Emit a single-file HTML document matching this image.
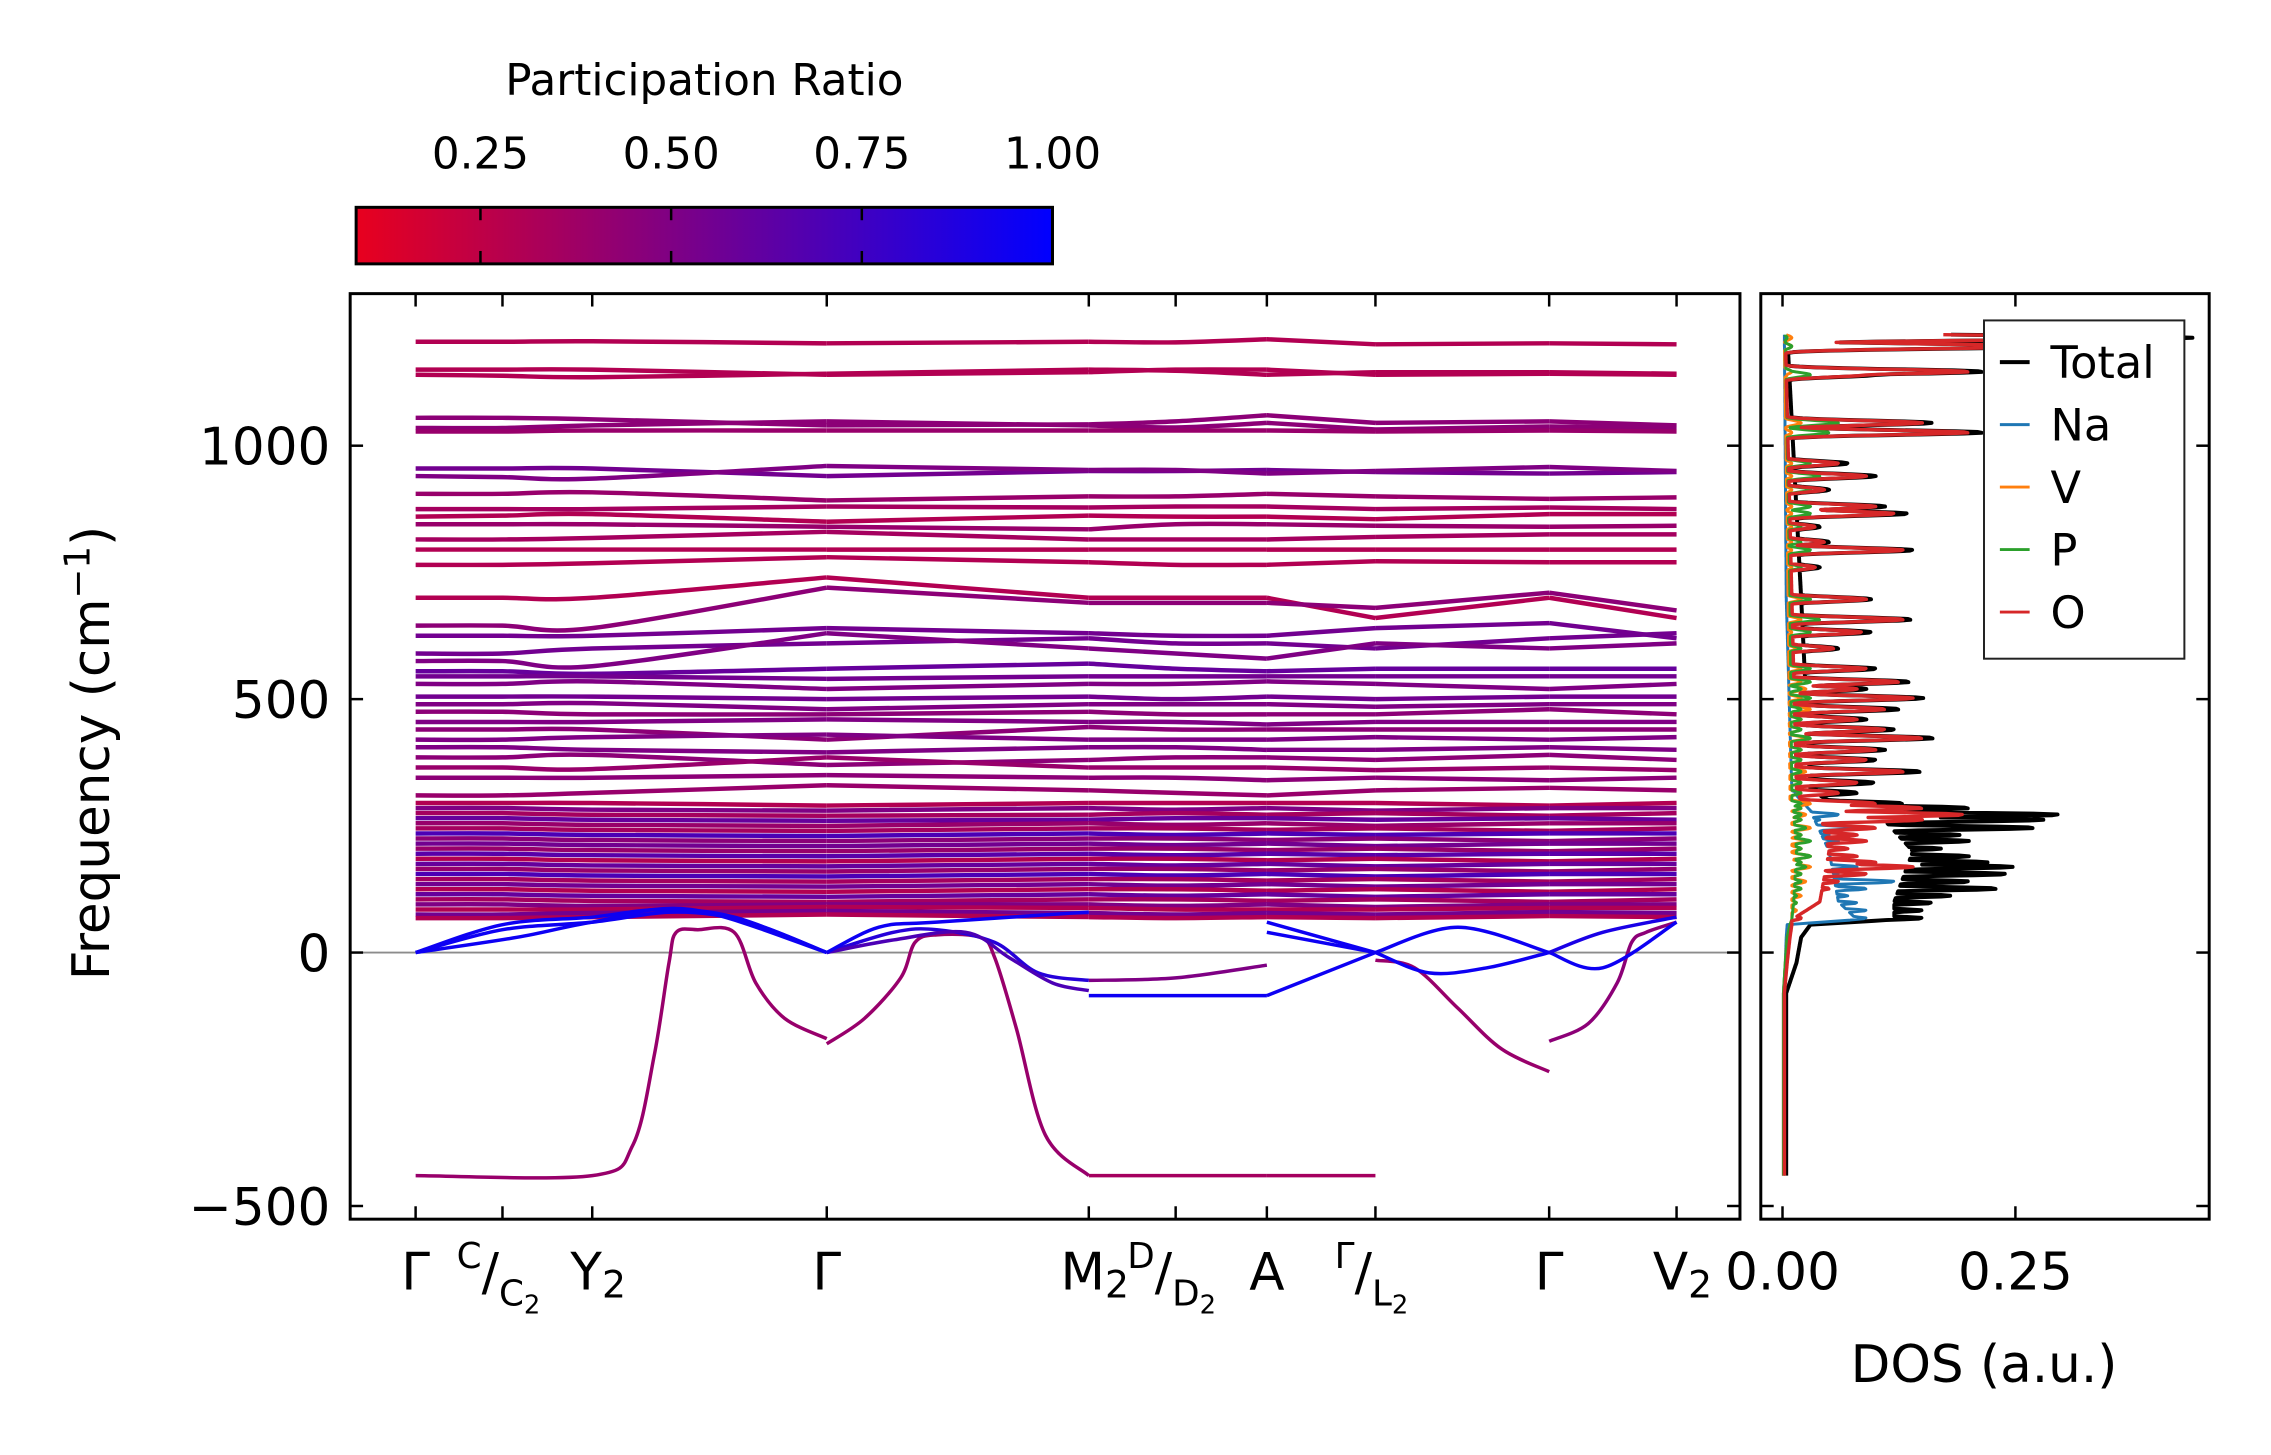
<!DOCTYPE html>
<html><head><meta charset="utf-8">
<style>
html,body{margin:0;padding:0;background:#fff;}
svg{display:block;font-family:"DejaVu Sans","Liberation Sans",sans-serif;}
</style></head>
<body>
<svg id="fig" width="2271" height="1455" viewBox="0 0 2271 1455" xmlns="http://www.w3.org/2000/svg">
<defs>
<linearGradient id="cmap" x1="0" x2="1" y1="0" y2="0">
<stop offset="0" stop-color="#e8001e"/><stop offset="1" stop-color="#0000ff"/>
</linearGradient>
<clipPath id="clipL"><rect x="353" y="296" width="1401" height="933"/></clipPath>
<clipPath id="clipR"><rect x="1775" y="296" width="452" height="933"/></clipPath>
</defs>
<g transform="scale(0.992)">
<g id="bands"></g>
<g id="dos"></g>
<g id="cbar"></g>
</g>
</svg>
<script>
// ---- data ----
const kTickLabels = ["Γ","C/C2","Y2","Γ","M2","D/D2","A","Γ/L2","Γ","V2"];
const kTicks = [0, 0.6, 1.22, 2.84, 4.65, 5.25, 5.88, 6.63, 7.83, 8.71];
const segments = [[0,1,2,3],[3,4],[4,5,6],[6,7],[7,8],[8,9]];
const yTicks = [-500, 0, 500, 1000];
const bandFreqs = [
[1205,1205,1206,1202,1205,1204,1210,1200,1202,1200],
[1150,1150,1150,1140,1145,1150,1150,1140,1142,1140],
[1140,1138,1135,1142,1150,1148,1140,1145,1145,1142],
[1055,1055,1052,1040,1042,1048,1060,1045,1048,1040],
[1035,1035,1040,1048,1040,1036,1045,1032,1038,1035],
[1028,1028,1030,1030,1030,1030,1030,1028,1030,1028],
[955,955,955,940,950,950,952,948,945,948],
[940,938,935,960,952,952,945,950,958,950],
[905,905,908,892,900,900,905,900,895,898],
[875,875,875,880,878,880,880,875,878,875],
[860,862,865,850,862,860,860,855,865,865],
[845,845,845,840,835,845,845,842,840,842],
[815,815,818,830,815,815,815,820,825,825],
[795,795,795,795,795,795,795,795,795,795],
[765,765,768,780,770,765,765,772,770,770],
[700,700,700,740,700,700,700,660,700,660],
[645,645,640,720,690,690,690,680,710,675],
[625,625,625,640,630,625,625,640,650,620],
[590,590,600,610,620,610,610,600,620,630],
[575,575,565,630,600,590,580,610,600,610],
[555,555,550,560,570,560,555,560,560,560],
[545,545,545,540,545,545,545,545,545,545],
[530,530,535,520,530,530,535,530,520,530],
[505,505,505,500,505,500,505,500,505,505],
[490,490,492,480,490,490,490,485,490,490],
[475,475,470,470,475,470,470,470,480,470],
[455,455,455,460,455,455,450,455,455,455],
[440,440,440,420,445,440,440,440,440,440],
[420,420,425,430,420,420,420,425,420,425],
[405,405,400,395,405,405,400,400,405,400],
[385,385,390,370,380,385,385,380,390,380],
[365,365,362,385,365,365,365,360,365,360],
[345,345,345,350,345,345,340,345,340,345],
[310,310,315,330,320,315,310,320,325,320],
[295,295,295,290,295,295,295,295,290,295],
[285,285,282,280,285,282,285,280,285,285],
[275,275,272,270,272,275,272,275,270,275],
[265,265,262,260,262,265,265,262,265,262],
[255,255,252,250,255,252,255,250,255,255],
[245,245,242,240,245,245,242,245,240,245],
[235,235,232,230,235,232,235,232,235,235],
[225,225,222,220,225,225,222,225,220,225],
[215,215,212,210,215,212,215,210,215,215],
[205,205,202,200,205,205,202,205,200,205],
[195,195,192,190,195,192,195,192,195,195],
[185,185,182,180,185,185,182,185,180,185],
[175,175,172,170,175,172,175,170,175,175],
[165,165,162,160,165,165,162,165,160,165],
[155,155,152,150,155,152,155,150,155,155],
[145,145,142,140,145,145,142,145,140,145],
[135,135,132,130,135,132,135,130,135,135],
[125,125,122,120,125,125,122,125,120,125],
[115,115,112,110,115,112,115,110,115,115],
[105,105,102,100,105,105,102,105,100,105],
[95,95,92,95,95,92,95,90,95,95],
[85,85,85,90,88,85,85,85,88,88],
[75,75,78,82,78,75,78,75,80,78],
[68,68,70,75,70,68,70,68,72,70]
];
const bandPR = [0.3,0.3,0.3,0.45,0.45,0.4,0.55,0.5,0.4,0.35,0.3,0.4,0.35,0.3,0.3,0.3,0.45,0.55,0.55,0.5,0.6,0.55,0.5,0.55,0.5,0.45,0.5,0.45,0.5,0.5,0.45,0.4,0.45,0.4,
0.3,0.5,0.35,0.6,0.4,0.35,0.7,0.45,0.55,0.4,0.65,0.3,0.6,0.4,0.7,0.35,0.55,0.3,0.6,0.35,0.5,0.3,0.55,0.3];
const specialK = [
[0,1.22,1.5,1.65,1.75,1.8,1.95,2.2,2.35,2.55,2.84],
[2.84,3.1,3.35,3.45,3.6,3.9,4.0,4.15,4.35,4.65],
[4.65,5.25,5.88],[5.88,6.63],
[6.63,6.9,7.2,7.5,7.83],
[7.83,8.1,8.3,8.4,8.5,8.71],
[0,0.6,1.22,1.8,2.3,2.84],[0,0.6,1.22,1.7,2.2,2.84],[0,0.7,1.22,1.9,2.84],
[2.84,3.3,3.6,4.0,4.3,4.65],[2.84,3.3,3.8,4.1,4.4,4.65],[2.84,3.2,3.6,4.65],
[4.65,5.25,5.88],[4.65,5.25,5.88],
[5.88,6.63],[5.88,6.63],[5.88,6.63],
[6.63,7.0,7.4,7.83],[6.63,7.2,7.83],
[7.83,8.2,8.71],[7.83,8.2,8.71]
];
const specialF = [
[-440,-440,-380,-200,-20,40,45,40,-60,-130,-170],
[-180,-130,-50,20,35,30,-10,-150,-360,-440],
[-440,-440,-440],[-440,-440],
[-15,-30,-110,-190,-235],
[-175,-140,-60,20,40,60],
[0,45,60,80,60,0],[0,55,70,85,70,0],[0,30,60,85,0],
[0,40,45,20,-40,-55],[0,25,40,-10,-60,-75],[0,50,60,80],
[-55,-50,-25],[-85,-85,-85],
[-85,0],[40,0],[60,0],
[0,-40,-30,0],[0,50,0],
[0,-30,60],[0,40,70]
];
const specialPR = [0.4,0.4,0.35,0.35,0.4,0.45,0.95,0.95,0.95,0.85,0.7,0.95,0.5,0.95,0.95,0.95,0.95,0.95,0.95,0.95,0.9];

const dosPeakFreq = [1213,1196,1146,1140,1045,1026,965,940,913,880,866,840,810,794,760,697,657,632,600,560,534,520,502,480,460,440,423,400,380,357,335,315,294,285,272,262,246,232,220,205,190,178,169,155,140,126,112,98,83,68];
const totalPeak = [.44,.3,.215,.1,.16,.215,.07,.1,.05,.11,.134,.04,.05,.14,.04,.095,.138,.095,.06,.10,.136,.09,.151,.125,.09,.12,.162,.11,.1,.148,.098,.08,.129,.2,.297,.28,.27,.19,.2,.17,.2,.22,.247,.24,.2,.23,.18,.16,.15,.15];
const oPeak = [.42,.28,.2,.09,.15,.2,.06,.09,.045,.1,.12,.035,.045,.13,.035,.09,.13,.085,.055,.09,.125,.08,.14,.11,.08,.11,.15,.1,.09,.13,.08,.06,.1,.15,.194,.15,.1,.08,.09,.07,.08,.1,.14,.09,.06,.05,.04,.03,.02,.02];
const naPeak = [0,0,0,0,0,0,0,0,0,0,0,0,0,0,0,0,0,0,0,0,0,0,0,0,0,0,0,0,.005,.005,.01,.015,.02,.02,.06,.04,.08,.05,.06,.07,.05,.05,.08,.06,.12,.09,.07,.08,.09,.09];
const vPeak = [.01,.01,.01,.005,.02,.01,.01,.01,.01,.01,.01,.01,.01,.01,.01,.02,.02,.01,.015,.02,.02,.025,.02,.03,.02,.02,.025,.02,.02,.025,.02,.02,.03,.02,.025,.02,.03,.02,.025,.02,.03,.02,.03,.02,.025,.02,.02,.015,.015,.01];
const pPeak = [.005,.01,.01,.03,.06,.05,.03,.04,.03,.03,.03,.02,.02,.03,.02,.03,.04,.03,.02,.03,.03,.02,.03,.02,.02,.02,.03,.02,.02,.02,.02,.02,.02,.02,.02,.02,.025,.02,.03,.02,.03,.02,.025,.02,.02,.02,.015,.015,.01,.01];
const envFreq  = [-445,-80,-20,30,55,65,100,200,280,300,320,700,1220];
const totalEnv = [.004,.004,.015,.02,.03,.12,.12,.14,.1,.05,.03,.02,.005];
const oEnv     = [.002,.002,.005,.008,.01,.01,.04,.05,.04,.02,.015,.01,.003];
const naEnv    = [.001,.001,.003,.004,.005,.08,.06,.05,.03,.02,.01,.004,.002];
const vEnv     = [.001,.001,.003,.005,.008,.01,.01,.01,.01,.008,.008,.006,.002];
const pEnv     = [.001,.001,.003,.005,.008,.01,.012,.015,.012,.01,.01,.008,.003];
const cbarTicks = [0.25, 0.5, 0.75, 1.0];
const legendNames = ["Total","Na","V","P","O"];

// ---- scales ----
const NS = "http://www.w3.org/2000/svg";
const L = {x0:353, x1:1754, y0:296, y1:1229};
const R = {x0:1775, x1:2227};
const kMin=-0.452, kMax=9.148, fMin=-526, fMax=1300;
const xK = k => L.x0 + (k-kMin)/(kMax-kMin)*(L.x1-L.x0);
const yF = f => L.y1 - (f-fMin)/(fMax-fMin)*(L.y1-L.y0);
const dMin=-0.0233, dMax=0.458;
const xD = v => R.x0 + (v-dMin)/(dMax-dMin)*(R.x1-R.x0);
const prMin=0.087, prMax=1.0;
const CB = {x0:359, x1:1061, y0:209, y1:266};
const xPR = p => CB.x0 + (p-prMin)/(prMax-prMin)*(CB.x1-CB.x0);
function cmap(p){const t=Math.max(0,Math.min(1,(p-prMin)/(prMax-prMin)));
 return `rgb(${Math.round(232*(1-t))},0,${Math.round(30+225*t)})`;}
function el(tag, attrs, parent){const e=document.createElementNS(NS,tag);for(const a in attrs)e.setAttribute(a,attrs[a]);parent.appendChild(e);return e;}
function smoothPath(pts){
 if(pts.length===2) return `M${pts[0][0]},${pts[0][1]}L${pts[1][0]},${pts[1][1]}`;
 let d=`M${pts[0][0].toFixed(1)},${pts[0][1].toFixed(1)}`;
 for(let i=0;i<pts.length-1;i++){
  const p0=pts[Math.max(0,i-1)],p1=pts[i],p2=pts[i+1],p3=pts[Math.min(pts.length-1,i+2)];
  const c1=[p1[0]+(p2[0]-p0[0])/6,p1[1]+(p2[1]-p0[1])/6];
  const c2=[p2[0]-(p3[0]-p1[0])/6,p2[1]-(p3[1]-p1[1])/6];
  d+=`C${c1[0].toFixed(1)},${c1[1].toFixed(1)} ${c2[0].toFixed(1)},${c2[1].toFixed(1)} ${p2[0].toFixed(1)},${p2[1].toFixed(1)}`;
 }
 return d;
}
function interp(xs,ys,x){if(x<=xs[0])return ys[0];for(let i=1;i<xs.length;i++){if(x<=xs[i]){const t=(x-xs[i-1])/(xs[i]-xs[i-1]);return ys[i-1]+t*(ys[i]-ys[i-1]);}}return ys[ys.length-1];}

const gB=document.getElementById('bands');
const gD=document.getElementById('dos');
const gC=document.getElementById('cbar');

// ---- band panel ----
const zl=el('line',{x1:L.x0,x2:L.x1,y1:yF(0),y2:yF(0),stroke:'#8c8c8c','stroke-width':2},gB);


const clipG=el('g',{'clip-path':'url(#clipL)'},gB);
bandFreqs.forEach((row,bi)=>{
 segments.forEach(seg=>{
  const pts=seg.map(i=>[xK(kTicks[i]),yF(row[i])]);
  const p=el('path',{d:smoothPath(pts),fill:'none',stroke:cmap(bandPR[bi]),'stroke-width':4.5},clipG);
  
  
 });
});
specialK.forEach((ks,si)=>{
 const pts=ks.map((k,j)=>[xK(k),yF(specialF[si][j])]);
 const p=el('path',{d:smoothPath(pts),fill:'none',stroke:cmap(specialPR[si]),'stroke-width':3.5},clipG);
 
 
});
const frL=el('rect',{x:L.x0,y:L.y0,width:L.x1-L.x0,height:L.y1-L.y0,fill:'none',stroke:'#000','stroke-width':3},gB);


kTicks.forEach(k=>{
 el('line',{x1:xK(k),x2:xK(k),y1:L.y1,y2:L.y1-13,stroke:'#000','stroke-width':2.5},gB);
 el('line',{x1:xK(k),x2:xK(k),y1:L.y0,y2:L.y0+13,stroke:'#000','stroke-width':2.5},gB);
});
yTicks.forEach(f=>{
 el('line',{x1:L.x0,x2:L.x0+13,y1:yF(f),y2:yF(f),stroke:'#000','stroke-width':2.5},gB);
 el('line',{x1:L.x1,x2:L.x1-13,y1:yF(f),y2:yF(f),stroke:'#000','stroke-width':2.5},gB);
 el('line',{x1:R.x0,x2:R.x0+13,y1:yF(f),y2:yF(f),stroke:'#000','stroke-width':2.5},gD);
 el('line',{x1:R.x1,x2:R.x1-13,y1:yF(f),y2:yF(f),stroke:'#000','stroke-width':2.5},gD);
 const t=el('text',{x:L.x0-20,y:yF(f)+19,'text-anchor':'end','font-size':52},gB);
 t.textContent=String(f).replace('-','\u2212');
 
 
});
function kLabel(i){
 const lab=kTickLabels[i]; const x=xK(kTicks[i]); const y=1300;
 const t=el('text',{x:x,y:y,'text-anchor':'middle','font-size':52},gB);
 
 
 if(lab.includes('/')){
  const [a,b]=lab.split('/');
  const main=b.replace(/2$/,'');
  t.setAttribute('x',x-4);
  const s1=el('tspan',{'font-size':36,dy:-22},t); s1.textContent=a;
  const s2=el('tspan',{'font-size':52,dy:22},t); s2.textContent='/';
  const s3=el('tspan',{'font-size':36,dy:16},t); s3.textContent=main;
  if(b.endsWith('2')){const s4=el('tspan',{'font-size':26,dy:8},t); s4.textContent='2';}
 } else if(lab.endsWith('2')){
  t.setAttribute('x',x+6);
  const s1=el('tspan',{},t); s1.textContent=lab.slice(0,-1);
  const s2=el('tspan',{'font-size':38,dy:8},t); s2.textContent='2';
 } else t.textContent=lab;
}
kTicks.forEach((k,i)=>kLabel(i));
const yl=el('text',{x:0,y:0,transform:'translate(110,759) rotate(-90)','text-anchor':'middle','font-size':52},gB);


yl.innerHTML='Frequency (cm<tspan font-size="36" dy="-20">\u22121</tspan><tspan dy="20">)</tspan>';

// ---- DOS panel ----
const dosClip=el('g',{'clip-path':'url(#clipR)'},gD);
function dosSeries(peaks, env){
 const pts=[];
 for(let f=-440; f<=1220; f+=1.5){
  let v=interp(envFreq,env,f);
  for(let i=0;i<dosPeakFreq.length;i++){const d=f-dosPeakFreq[i];const g=peaks[i]*Math.exp(-d*d/(2*4.5*4.5));if(g>v)v=g;}
  pts.push(`${xD(v).toFixed(1)},${yF(f).toFixed(1)}`);
 }
 return 'M'+pts.join('L');
}
const series=[[totalPeak,totalEnv,'#000000',4],[naPeak,naEnv,'#1f77b4',3],[vPeak,vEnv,'#ff7f0e',3],[pPeak,pEnv,'#2ca02c',3],[oPeak,oEnv,'#d62728',3.5]];
const seriesNames=['dos-total','dos-na','dos-v','dos-p','dos-o'];
series.forEach((s,i)=>{
 const p=el('path',{d:dosSeries(s[0],s[1]),fill:'none',stroke:s[2],'stroke-width':s[3],'stroke-linejoin':'round'},dosClip);
 
 
});
const frR=el('rect',{x:R.x0,y:L.y0,width:R.x1-R.x0,height:L.y1-L.y0,fill:'none',stroke:'#000','stroke-width':3},gD);


const dTicks=[0,0.25];
const dTickLabels=['0.00','0.25'];
dTicks.forEach((v,i)=>{
 el('line',{x1:xD(v),x2:xD(v),y1:L.y1,y2:L.y1-13,stroke:'#000','stroke-width':2.5},gD);
 el('line',{x1:xD(v),x2:xD(v),y1:L.y0,y2:L.y0+13,stroke:'#000','stroke-width':2.5},gD);
 const t=el('text',{x:xD(v),y:1300,'text-anchor':'middle','font-size':52},gD);
 t.textContent=dTickLabels[i];
 
 
});
const dl=el('text',{x:2000,y:1393,'text-anchor':'middle','font-size':52},gD);
dl.textContent='DOS (a.u.)';


const lg=el('g',{},gD);


el('rect',{x:2000,y:323,width:202,height:341,fill:'#fff',stroke:'#222','stroke-width':2},lg);
legendNames.forEach((n,i)=>{
 const y=365+i*63;
 el('line',{x1:2016,x2:2046,y1:y,y2:y,stroke:series[i][2],'stroke-width':i===0?4:3},lg);
 const t=el('text',{x:2067,y:y+16,'font-size':45},lg);
 t.textContent=n;
 
 
});

// ---- colorbar ----
el('rect',{x:CB.x0,y:CB.y0,width:CB.x1-CB.x0,height:CB.y1-CB.y0,fill:'url(#cmap)',stroke:'#000','stroke-width':3},gC);
cbarTicks.forEach(v=>{
 if(v<1){
  el('line',{x1:xPR(v),x2:xPR(v),y1:CB.y0,y2:CB.y0+13,stroke:'#000','stroke-width':2.5},gC);
  el('line',{x1:xPR(v),x2:xPR(v),y1:CB.y1,y2:CB.y1-13,stroke:'#000','stroke-width':2.5},gC);
 }
 const t=el('text',{x:xPR(v),y:170,'text-anchor':'middle','font-size':44},gC);
 t.textContent=v.toFixed(2);
 
 
});
const ct=el('text',{x:710,y:96,'text-anchor':'middle','font-size':44},gC);
ct.textContent='Participation Ratio';


</script>
</body></html>
